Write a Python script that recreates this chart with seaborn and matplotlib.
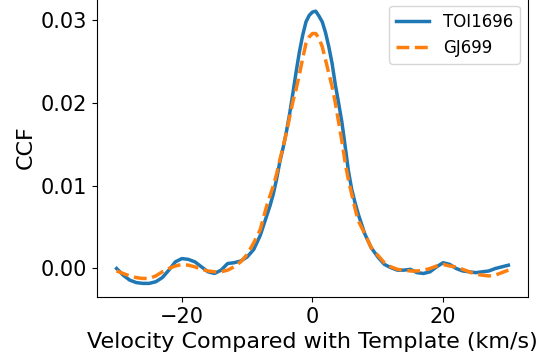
import numpy as np
import pandas as pd
import matplotlib
matplotlib.use("Agg")
import matplotlib.pyplot as plt
import seaborn as sns

# velocity grid (km/s): 1 km/s in the wings, 0.5 km/s across the peak
velocity = [
    -30, -29, -28, -27, -26, -25, -24, -23, -22, -21, -20, -19, -18, -17,
    -16, -15, -14, -13, -12, -11, -10, -9, -8, -7,
    -6.5, -6, -5.5, -5, -4.5, -4, -3.5, -3, -2.5, -2, -1.5, -1, -0.5,
    0, 0.5, 1, 1.5, 2, 2.5, 3, 3.5, 4, 4.5, 5, 5.5, 6, 6.5,
    7, 8, 9, 10, 11, 12, 13, 14, 15, 16, 17, 18, 19, 20, 21, 22, 23,
    24, 25, 26, 27, 28, 29, 30,
]

# CCF values
ccf_toi1696 = [
    0.0000, -0.0008, -0.0014, -0.0017, -0.0018, -0.0018, -0.0016, -0.0011,
    -0.0002, 0.0008, 0.0012, 0.0011, 0.0008, 0.0002, -0.0004, -0.0006,
    -0.0002, 0.0006, 0.0007, 0.0009, 0.0014, 0.0023, 0.0040, 0.0064,
    0.0076, 0.0090, 0.0108, 0.0129, 0.0146, 0.0165, 0.0187, 0.0212,
    0.0238, 0.0262, 0.0282, 0.0298, 0.0306,
    0.0310, 0.0311, 0.0305, 0.0298, 0.0285, 0.0268, 0.0248, 0.0222,
    0.0200, 0.0177, 0.0148, 0.0118, 0.0096, 0.0080,
    0.0066, 0.0042, 0.0025, 0.0014, 0.0005, 0.0001, -0.0002, -0.0002,
    -0.0001, -0.0005, -0.0006, -0.0004, 0.0002, 0.0007, 0.0005, 0.0000,
    -0.0003, -0.0004, -0.0005, -0.0004, -0.0003, 0.0000, 0.0002, 0.0004,
]

ccf_gj699 = [
    -0.0003, -0.0006, -0.0009, -0.0011, -0.0012, -0.0012, -0.0009, -0.0004,
    0.0000, 0.0003, 0.0005, 0.0004, 0.0002, -0.0001, -0.0003, -0.0004,
    -0.0004, -0.0002, 0.0002, 0.0008, 0.0017, 0.0031, 0.0047, 0.0076,
    0.0088, 0.0100, 0.0114, 0.0131, 0.0147, 0.0164, 0.0183, 0.0202,
    0.0217, 0.0235, 0.0254, 0.0272, 0.0280,
    0.0284, 0.0284, 0.0278, 0.0268, 0.0252, 0.0236, 0.0220, 0.0200,
    0.0177, 0.0154, 0.0128, 0.0107, 0.0090, 0.0073,
    0.0058, 0.0042, 0.0025, 0.0016, 0.0007, 0.0002, -0.0001, -0.0002,
    -0.0003, -0.0003, -0.0002, 0.0000, 0.0003, 0.0005, 0.0003, 0.0002,
    -0.0001, -0.0004, -0.0007, -0.0008, -0.0009, -0.0008, -0.0005, -0.0002,
]

fig = plt.figure(figsize=(5.49, 3.6), dpi=100)
ax = fig.add_axes([0.1767, 0.175, 0.785, 0.8317])

sns.lineplot(x=velocity, y=ccf_toi1696, ax=ax,
             color='#1f77b4', linewidth=2.5, linestyle='-',
             label='TOI1696')
sns.lineplot(x=velocity, y=ccf_gj699, ax=ax,
             color='#ff7f0e', linewidth=2.5, linestyle='--',
             label='GJ699')

ax.set_xlabel("Velocity Compared with Template (km/s)", fontsize=16)
ax.set_ylabel("CCF", fontsize=16)
ax.set_xticks([-20, 0, 20])
ax.set_yticks([0.00, 0.01, 0.02, 0.03])
ax.tick_params(labelsize=15)

ax.legend(fontsize=12, loc='upper right')

fig.savefig("out.png", dpi=100)
